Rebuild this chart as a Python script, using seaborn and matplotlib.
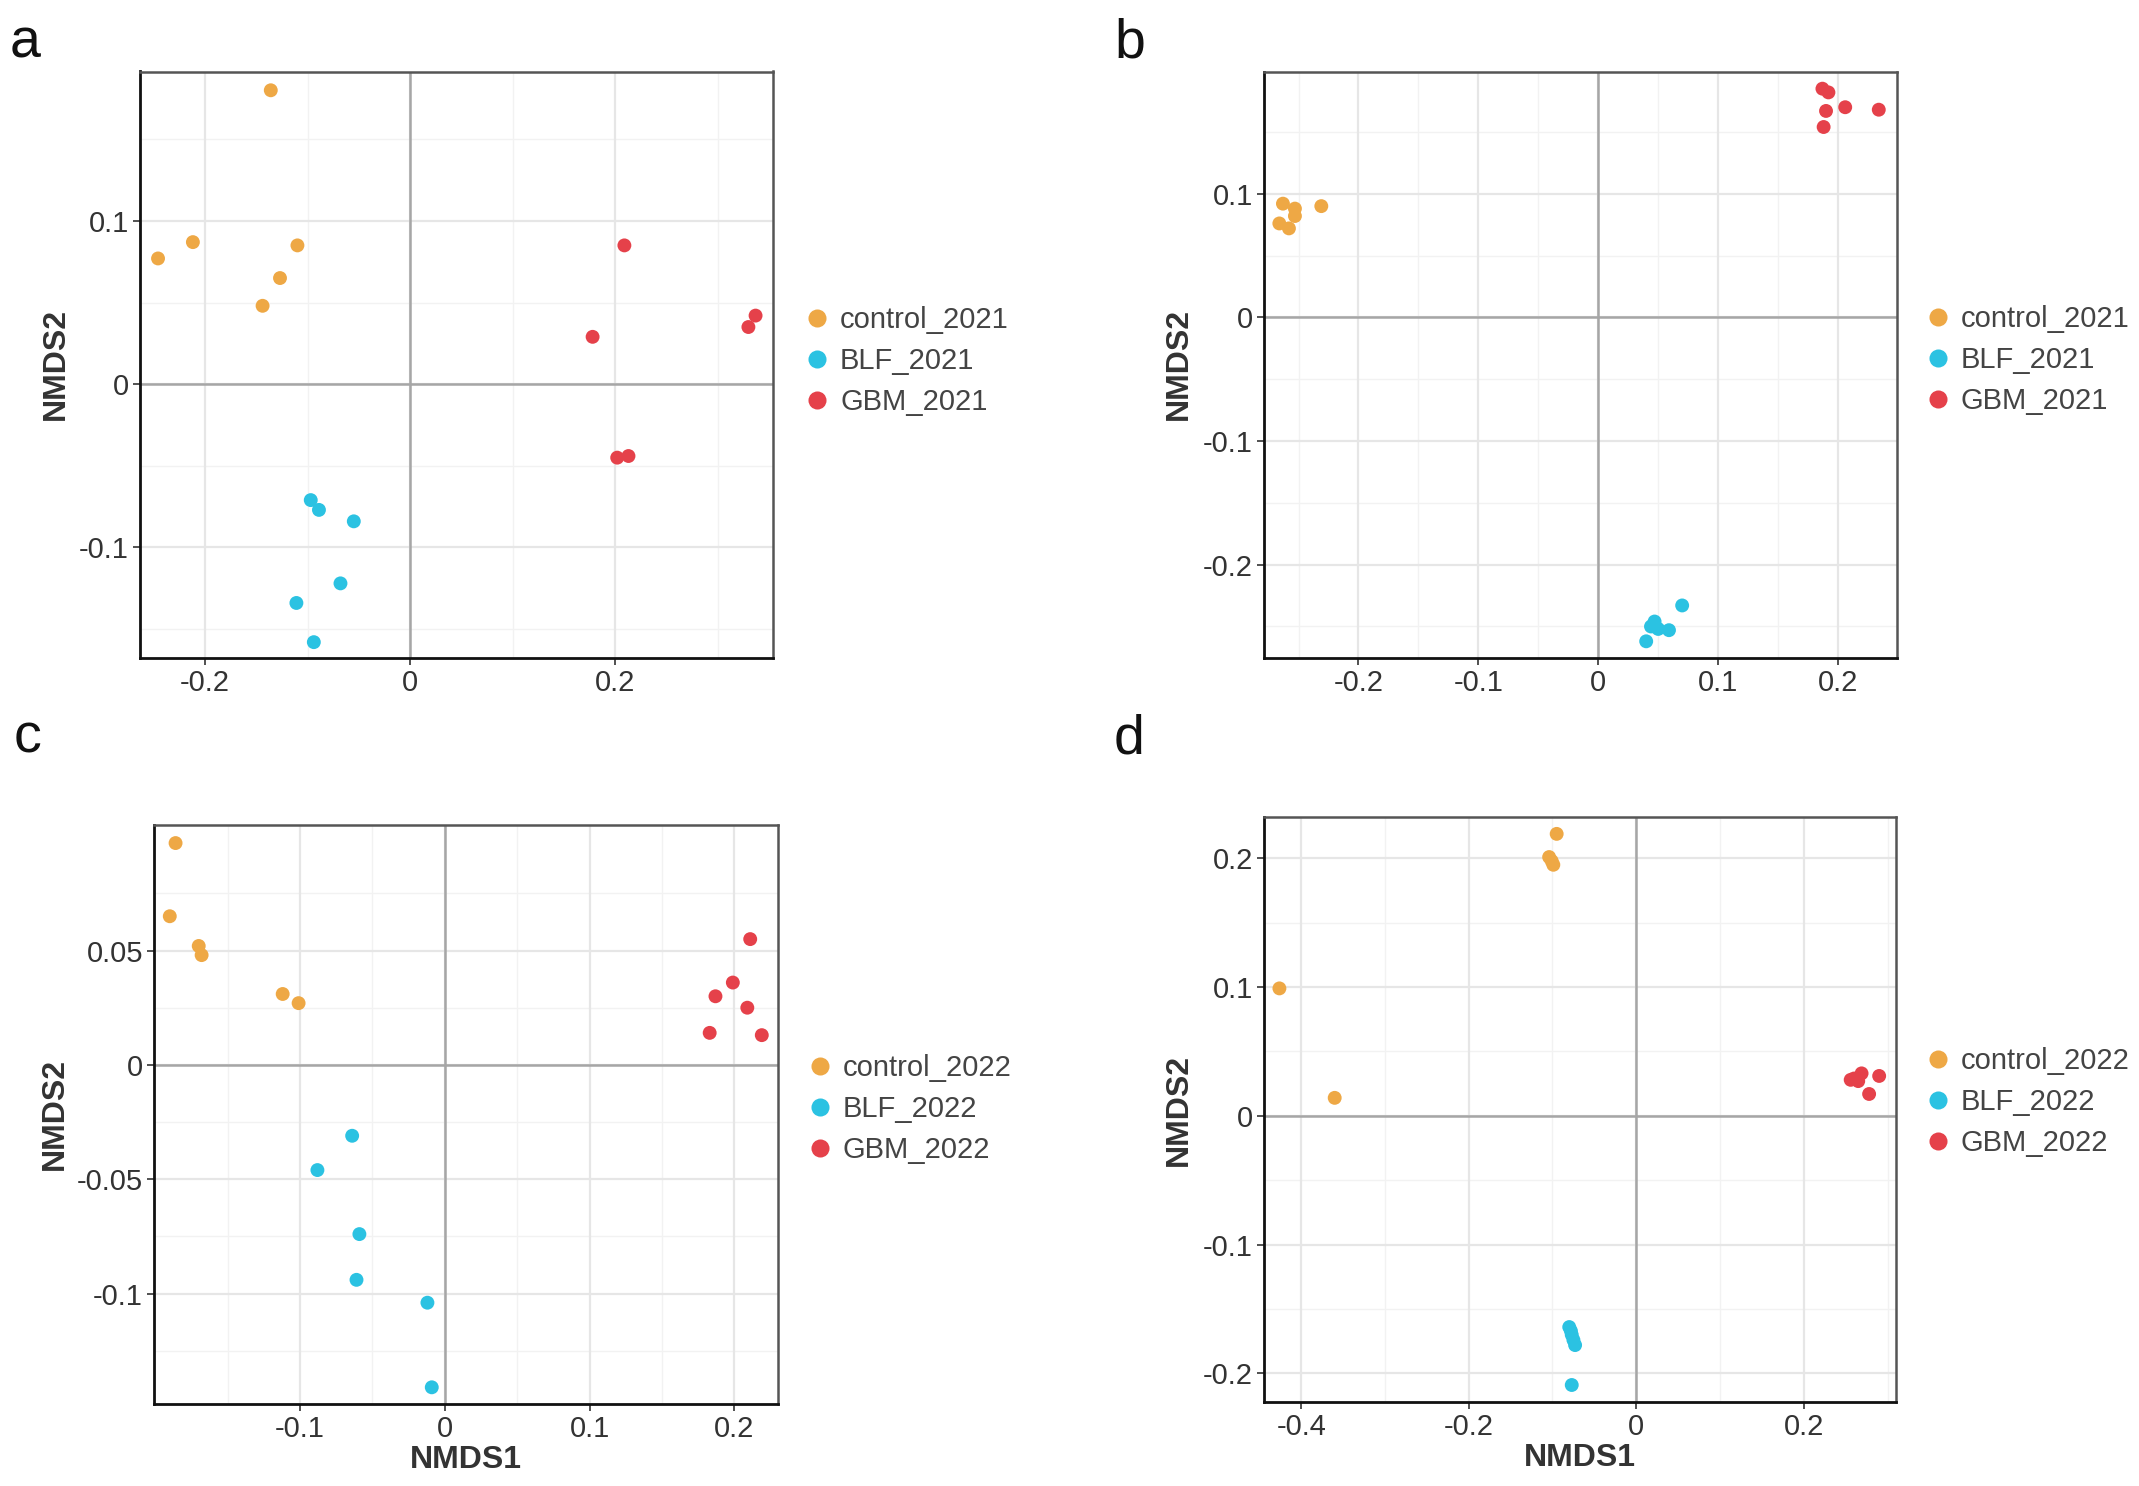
import matplotlib
matplotlib.use("Agg")
import matplotlib.pyplot as plt
import seaborn as sns
import numpy as np
import pandas as pd

# group names
groups_2021 = ["control_2021", "BLF_2021", "GBM_2021"]
groups_2022 = ["control_2022", "BLF_2022", "GBM_2022"]

# panel a (2021)
a_nmds1 = [-0.136, -0.246, -0.212, -0.110, -0.127, -0.144,
           -0.097, -0.089, -0.055, -0.068, -0.111, -0.094,
           0.209, 0.337, 0.330, 0.178, 0.202, 0.213]
a_nmds2 = [0.180, 0.077, 0.087, 0.085, 0.065, 0.048,
           -0.071, -0.077, -0.084, -0.122, -0.134, -0.158,
           0.085, 0.042, 0.035, 0.029, -0.045, -0.044]

# panel b (2021)
b_nmds1 = [-0.263, -0.253, -0.253, -0.231, -0.266, -0.258,
           0.070, 0.047, 0.050, 0.059, 0.040, 0.044,
           0.187, 0.192, 0.190, 0.206, 0.234, 0.188]
b_nmds2 = [0.092, 0.088, 0.082, 0.090, 0.076, 0.072,
           -0.233, -0.246, -0.252, -0.253, -0.262, -0.250,
           0.185, 0.182, 0.167, 0.170, 0.168, 0.154]

# panel c (2022)
c_nmds1 = [-0.186, -0.190, -0.170, -0.168, -0.112, -0.101,
           -0.064, -0.088, -0.059, -0.061, -0.012, -0.009,
           0.211, 0.199, 0.187, 0.209, 0.183, 0.219]
c_nmds2 = [0.097, 0.065, 0.052, 0.048, 0.031, 0.027,
           -0.031, -0.046, -0.074, -0.094, -0.104, -0.141,
           0.055, 0.036, 0.030, 0.025, 0.014, 0.013]

# panel d (2022)
d_nmds1 = [-0.095, -0.104, -0.101, -0.099, -0.426, -0.360,
           -0.080, -0.077, -0.075, -0.073, -0.077, -0.078,
           0.260, 0.269, 0.290, 0.265, 0.278, 0.256]
d_nmds2 = [0.219, 0.201, 0.198, 0.195, 0.099, 0.014,
           -0.164, -0.170, -0.174, -0.178, -0.209, -0.167,
           0.029, 0.033, 0.031, 0.027, 0.017, 0.028]

colors = ["#EEA845", "#2BC2E2", "#E5414A"]

sns.set_theme(style="white")
plt.rcParams["font.family"] = ["Liberation Sans", "DejaVu Sans"]
plt.rcParams["axes.unicode_minus"] = False

W, H = 2139, 1486
fig = plt.figure(figsize=(W / 100, H / 100), dpi=100)


def px_axes(left, right, top, bottom):
    return fig.add_axes([left / W, 1 - bottom / H, (right - left) / W, (bottom - top) / H])


def fmt(v, pos=None):
    s = "%g" % round(v, 4)
    return "0" if s in ("-0", "0") else s


def draw_panel(box, x, y, groups, xlim, ylim, xmaj, ymaj, xmin_, ymin_,
               ylab_x, show_xlab, xlab_y, legend_xy):
    ax = px_axes(*box)
    df = pd.DataFrame({"NMDS1": x, "NMDS2": y, "group": np.repeat(groups, 6)})
    for v in xmin_:
        ax.axvline(v, color="#f2f2f2", lw=1.0, zorder=0)
    for v in ymin_:
        ax.axhline(v, color="#f2f2f2", lw=1.0, zorder=0)
    for v in xmaj:
        ax.axvline(v, color="#e6e6e6", lw=1.6, zorder=0)
    for v in ymaj:
        ax.axhline(v, color="#e6e6e6", lw=1.6, zorder=0)
    ax.axvline(0, color="#a6a6a6", lw=1.8, zorder=1)
    ax.axhline(0, color="#a6a6a6", lw=1.8, zorder=1)
    sns.scatterplot(data=df, x="NMDS1", y="NMDS2", hue="group", hue_order=groups,
                    palette=colors, s=100, linewidth=0, ax=ax, zorder=3)
    ax.set_xlim(*xlim)
    ax.set_ylim(*ylim)
    ax.set_xticks(xmaj)
    ax.set_yticks(ymaj)
    ax.xaxis.set_major_formatter(plt.FuncFormatter(fmt))
    ax.yaxis.set_major_formatter(plt.FuncFormatter(fmt))
    ax.tick_params(axis="both", which="major", length=5, width=1.2, color="#333333",
                   labelsize=21, labelcolor="#333333", pad=3, direction="out",
                   bottom=True, left=True)
    for side in ["top", "right"]:
        ax.spines[side].set_color("#555555")
        ax.spines[side].set_linewidth(1.8)
    for side in ["left", "bottom"]:
        ax.spines[side].set_color("#111111")
        ax.spines[side].set_linewidth(2.0)
    ax.set_ylabel("NMDS2", fontsize=23, fontweight="bold", color="#333333", va="center")
    ax.yaxis.set_label_coords(ylab_x, 0.5)
    if show_xlab:
        ax.set_xlabel("NMDS1", fontsize=23, fontweight="bold", color="#333333", va="center")
        ax.xaxis.set_label_coords(0.5, xlab_y)
    else:
        ax.set_xlabel("")
    handles, labels = ax.get_legend_handles_labels()
    ax.legend(handles, labels, loc="center left",
              bbox_to_anchor=(legend_xy[0] / W, 1 - legend_xy[1] / H),
              bbox_transform=fig.transFigure, frameon=False, fontsize=21,
              handlelength=0.8, handletextpad=0.4, labelspacing=0.45,
              borderpad=0, borderaxespad=0, labelcolor="#444444", markerscale=1.3)
    return ax


draw_panel((140, 773, 71.5, 657.5), a_nmds1, a_nmds2, groups_2021,
           (-0.2636, 0.354), (-0.1674, 0.1915),
           [-0.2, 0, 0.2], [-0.1, 0, 0.1],
           [-0.1, 0.1, 0.3], [-0.15, -0.05, 0.05, 0.15],
           -0.133, False, 0, (805, 361))

draw_panel((1264, 1897, 71.5, 657.5), b_nmds1, b_nmds2, groups_2021,
           (-0.2788, 0.2492), (-0.2751, 0.1989),
           [-0.2, -0.1, 0, 0.1, 0.2], [-0.2, -0.1, 0, 0.1],
           [-0.25, -0.15, -0.05, 0.05, 0.15], [-0.25, -0.15, -0.05, 0.05, 0.15],
           -0.134, False, 0, (1926, 360))

draw_panel((154, 778, 825, 1404), c_nmds1, c_nmds2, groups_2022,
           (-0.2009, 0.2302), (-0.1483, 0.1049),
           [-0.1, 0, 0.1, 0.2], [-0.1, -0.05, 0, 0.05],
           [-0.15, -0.05, 0.05, 0.15], [-0.125, -0.075, -0.025, 0.025, 0.075],
           -0.159, True, -0.097, (808, 1109))

draw_panel((1264, 1896, 817, 1402), d_nmds1, d_nmds2, groups_2022,
           (-0.4444, 0.3101), (-0.2222, 0.2321),
           [-0.4, -0.2, 0, 0.2], [-0.2, -0.1, 0, 0.1, 0.2],
           [-0.3, -0.1, 0.1, 0.3], [-0.15, -0.05, 0.05, 0.15],
           -0.134, True, -0.096, (1926, 1102))

for letter, lx, ly in [("a", 10, 58), ("b", 1114, 58), ("c", 14, 752), ("d", 1114, 754)]:
    fig.text(lx / W, 1 - ly / H, letter, fontsize=40, color="#111111",
             ha="left", va="baseline")

fig.savefig("out.png", dpi=100, facecolor="white")
